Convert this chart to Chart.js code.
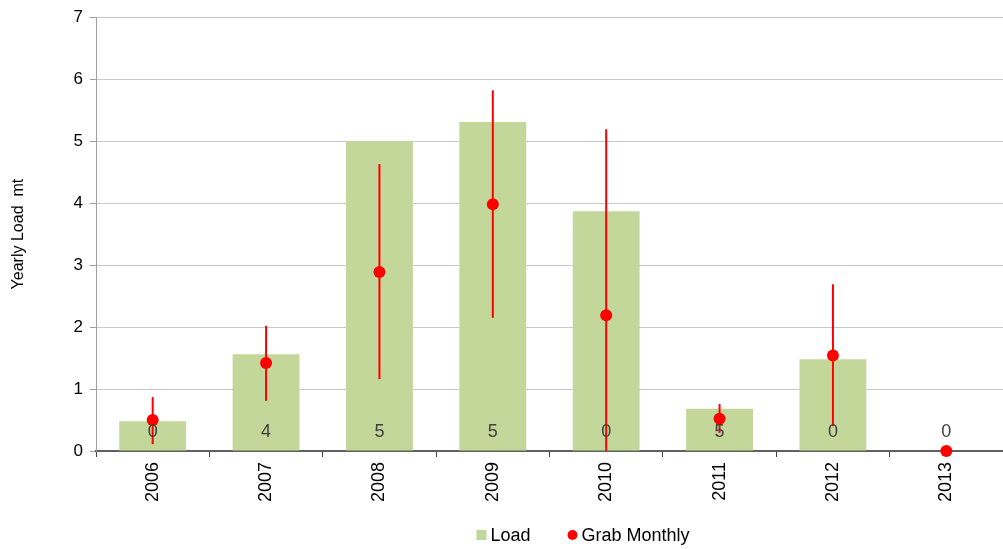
<!DOCTYPE html>
<html><head><meta charset="utf-8">
<script src="https://cdn.jsdelivr.net/npm/chart.js@4"></script>
<style>html,body{margin:0;padding:0;background:#fff}#wrap{width:1003px;height:549px}</style>
</head><body><div id="wrap"><canvas id="c" width="1003" height="549"></canvas></div>
<script>
const categories = ["2006","2007","2008","2009","2010","2011","2012","2013"];
const loadValues = [0.48, 1.56, 5.0, 5.31, 3.87, 0.68, 1.48, 0];
const grabMonthly = [0.5, 1.42, 2.89, 3.98, 2.19, 0.52, 1.54, 0];
const errLow = [0.11, 0.81, 1.16, 2.15, 0, 0.29, 0.40, 0];
const errHigh = [0.87, 2.02, 4.63, 5.82, 5.19, 0.76, 2.69, 0];
const countLabels = ["0","4","5","5","0","5","0","0"];
const yTicks = [0,1,2,3,4,5,6,7];

const FONT = "'Liberation Sans', Arial, sans-serif";
const GREEN = '#c4d79b', RED = '#ff0000';

const overlay = {
  id: 'overlay',
  beforeDatasetDraw(chart, args){
    if (args.index !== 1) return;
    const ctx = chart.ctx, xs = chart.scales.x, ys = chart.scales.y;
    ctx.save();
    ctx.strokeStyle = RED;
    ctx.lineWidth = 2;
    categories.forEach((c,i)=>{
      if (errHigh[i] === errLow[i]) return;
      const x = xs.getPixelForValue(i);
      ctx.beginPath();
      ctx.moveTo(x, ys.getPixelForValue(errLow[i]));
      ctx.lineTo(x, ys.getPixelForValue(errHigh[i]));
      ctx.stroke();
    });
    ctx.restore();
  },
  afterDatasetsDraw(chart){
    const ctx = chart.ctx, xs = chart.scales.x, ys = chart.scales.y;
    ctx.save();
    ctx.fillStyle = '#404040';
    ctx.font = '18px ' + FONT;
    ctx.textAlign = 'center';
    ctx.textBaseline = 'middle';
    categories.forEach((c,i)=>{
      ctx.fillText(countLabels[i], xs.getPixelForValue(i), ys.getPixelForValue(0) - 19);
    });
    ctx.restore();
  },
  afterDraw(chart){
    const ctx = chart.ctx;
    const ds = chart.data.datasets;
    ctx.save();
    ctx.font = '18px ' + FONT;
    ctx.textBaseline = 'middle';
    ctx.textAlign = 'left';
    const box = 10, gapBoxText = 4, gapItems = 37;
    const widths = ds.map(d => box + gapBoxText + ctx.measureText(d.label).width);
    const total = widths.reduce((a,b)=>a+b,0) + gapItems*(ds.length-1);
    let x = 583 - total/2;
    const y = 535;
    ds.forEach((d,i)=>{
      ctx.fillStyle = d.backgroundColor;
      if (i === 0) ctx.fillRect(x, y - box/2, box, box);
      else { ctx.beginPath(); ctx.arc(x + box/2, y, box/2, 0, Math.PI*2); ctx.fill(); }
      ctx.fillStyle = '#000';
      ctx.fillText(d.label, x + box + gapBoxText, y + 1);
      x += widths[i] + gapItems;
    });
    ctx.restore();
  }
};

new Chart(document.getElementById('c'), {
  type: 'bar',
  data: {
    labels: categories,
    datasets: [
      { type:'bar', label:'Load', data: loadValues, backgroundColor:GREEN, borderWidth:0,
        barPercentage:0.59, categoryPercentage:1.0, order:2 },
      { type:'line', label:'Grab Monthly', data: grabMonthly, showLine:false, pointRadius:6, pointHoverRadius:6,
        backgroundColor:RED, borderColor:RED, pointBorderWidth:0, clip:false, order:1 }
    ]
  },
  options: {
    responsive:false, animation:false,
    layout:{ autoPadding:false, padding:{ top:17, right:0, left:0, bottom:38 } },
    plugins:{ tooltip:{ enabled:false }, legend:{ display:false } },
    scales:{
      x:{
        grid:{ drawOnChartArea:false, drawTicks:true, tickLength:6, color:'#404040', offset:true },
        border:{ color:'#606060', width:2 },
        ticks:{ color:'#000', font:{ family:FONT, size:18 }, minRotation:90, maxRotation:90, padding:5 },
        afterFit(s){ s.height = 60; s.paddingRight = 0; s.paddingLeft = 0; }
      },
      y:{
        min:0, max:7,
        afterBuildTicks(s){ s.ticks = yTicks.map(v=>({value:v})); },
        grid:{ color:'#c8c8c8', tickLength:6, tickColor:'#a0a0a0' },
        border:{ color:'#a0a0a0', width:1 },
        ticks:{ color:'#000', font:{ family:FONT, size:17 }, padding:7 },
        title:{ display:true, text:'Yearly Load  mt', color:'#000', font:{ family:FONT, size:16 }, padding:{top:9,bottom:0} },
        afterFit(s){ s.width = 96; }
      }
    }
  },
  plugins:[overlay]
});
</script>
</body></html>
